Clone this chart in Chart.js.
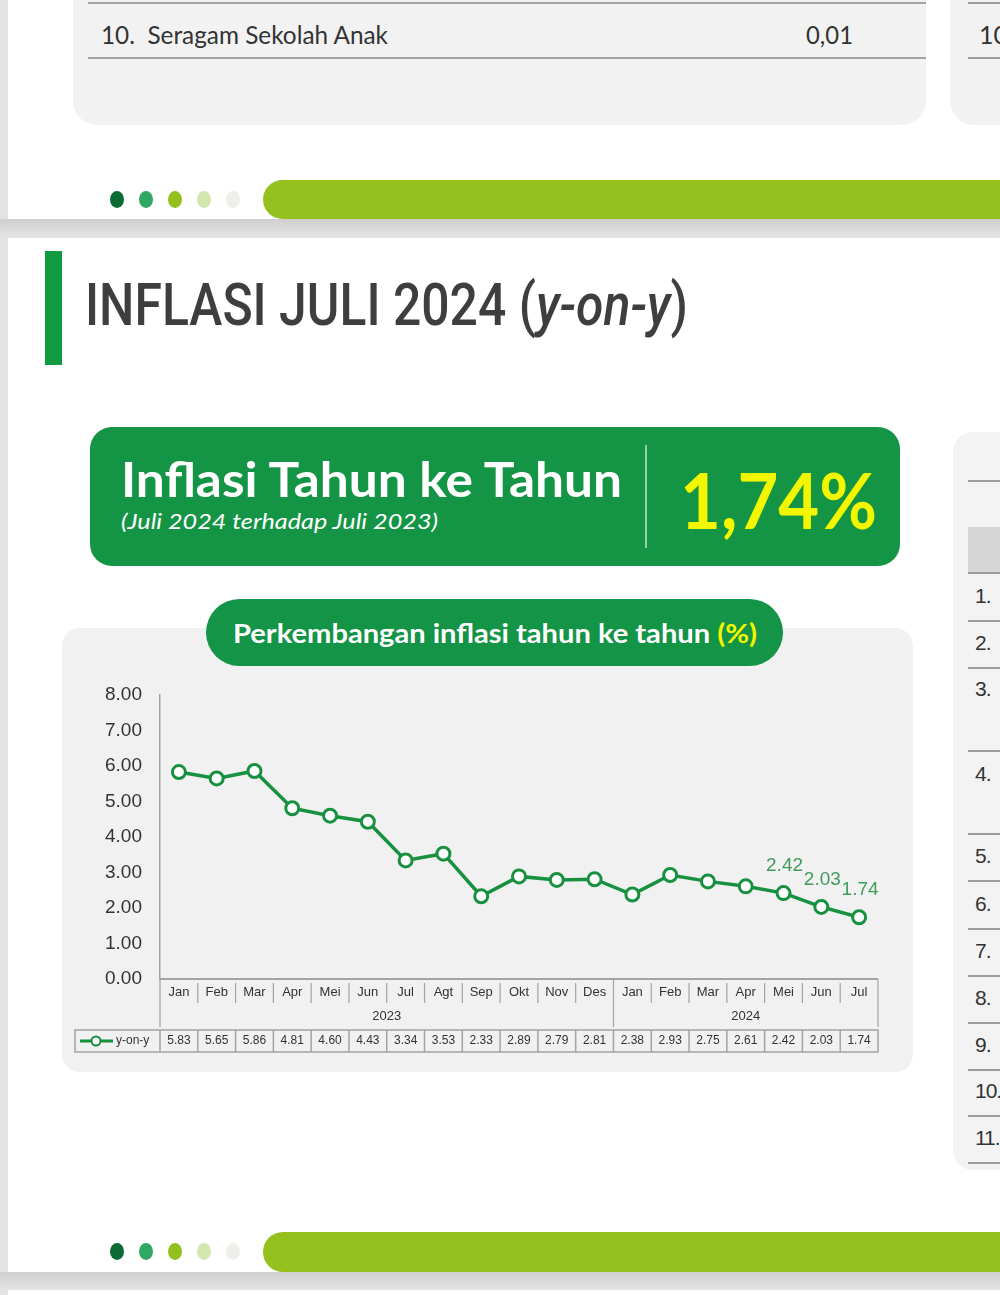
<!DOCTYPE html>
<html>
<head>
<meta charset="utf-8">
<script src="https://cdn.jsdelivr.net/npm/chart.js@4.4.1/dist/chart.umd.min.js"></script>
<style>
  html, body { margin: 0; padding: 0; }
  body { width: 1000px; height: 1295px; position: relative; overflow: hidden; background: #fff; font-family: Lato, "Open Sans", sans-serif; }
  .abs { position: absolute; }
  .fit { display: inline-block; white-space: nowrap; transform-origin: left center; }
  .dot { position: absolute; width: 14px; height: 17px; border-radius: 50%; }
  .bar { position: absolute; left: 263px; width: 760px; background: #95c11f; border-radius: 20px 0 0 20px; }
  .band { position: absolute; left: 0; width: 1000px; background: linear-gradient(#cfcfcf, #e4e4e4); }
  .rline { position: absolute; left: 968px; width: 40px; height: 2px; background: #9c9c9c; }
  .rnum { position: absolute; left: 975px; font-family: "Liberation Sans", Arial, sans-serif; font-size: 21px; color: #333; letter-spacing: -1px; }
</style>
</head>
<body>
<!-- bagian atas (halaman sebelumnya) -->
<div class="abs" style="left:0;top:0;width:8px;height:1295px;background:#e3e3e3;"></div>
<div class="abs" style="left:73px;top:-30px;width:853px;height:155px;background:#f2f2f2;border-radius:24px;"></div>
<div class="abs" style="left:950px;top:-30px;width:80px;height:155px;background:#f2f2f2;border-radius:24px;"></div>
<div class="abs" style="left:88px;top:2px;width:838px;height:2px;background:#a3a3a3;"></div>
<div class="abs" style="left:88px;top:57px;width:838px;height:2px;background:#a3a3a3;"></div>
<div class="rline" style="top:2px;"></div>
<div class="rline" style="top:57px;"></div>
<div class="abs fit" data-w="287" style="left:101px;top:19px;font-size:25px;color:#333;">10.&nbsp;&nbsp;Seragam Sekolah Anak</div>
<div class="abs fit" data-w="47" style="left:806px;top:19px;font-size:25px;color:#333;">0,01</div>
<div class="abs" style="left:979px;top:19px;font-size:25px;color:#333;">10</div>

<div class="dot" style="left:110px;top:191px;background:#0b6b34;"></div>
<div class="dot" style="left:139px;top:191px;background:#2ea862;"></div>
<div class="dot" style="left:168px;top:191px;background:#93c01f;"></div>
<div class="dot" style="left:197px;top:191px;background:#d2e6ad;"></div>
<div class="dot" style="left:226px;top:191px;background:#edf0e8;"></div>
<div class="bar" style="top:180px;height:39px;"></div>
<div class="band" style="top:219px;height:19px;"></div>

<!-- halaman inflasi -->
<div class="abs" style="left:45px;top:251px;width:17px;height:114px;background:#109a42;"></div>
<div class="abs fit" data-w="603" style="left:85px;top:270px;font-family:Roboto, sans-serif;font-size:59px;font-weight:500;color:#3e3e3e;line-height:70px;">INFLASI JULI 2024 (<i>y-on-y</i>)</div>

<div class="abs" style="left:90px;top:427px;width:810px;height:139px;background:#149545;border-radius:22px;"></div>
<div class="abs fit" data-w="501" style="left:121px;top:450px;font-size:48px;font-weight:700;color:#fff;line-height:58px;">Inflasi Tahun ke Tahun</div>
<div class="abs fit" data-w="317" style="left:121px;top:507px;font-size:22px;font-style:italic;color:#fff;line-height:28px;">(Juli 2024 terhadap Juli 2023)</div>
<div class="abs" style="left:645px;top:445px;width:2px;height:103px;background:rgba(255,255,255,0.55);"></div>
<div class="abs fit" data-w="197" style="left:680px;top:455px;font-size:76px;font-weight:700;color:#f2f700;line-height:90px;">1,74%</div>

<div class="abs" style="left:62px;top:628px;width:851px;height:444px;background:#f1f1f1;border-radius:18px;"></div>
<div class="abs" style="left:206px;top:599px;width:577px;height:67px;background:#139447;border-radius:34px;"></div>
<div class="abs fit" data-w="524" style="left:233px;top:616px;font-size:26px;font-weight:700;color:#fff;line-height:34px;">Perkembangan inflasi tahun ke tahun <span style="color:#f2f700;">(%)</span></div>

<div class="abs" style="left:953px;top:432px;width:80px;height:738px;background:#f3f3f3;border-radius:20px;"></div>
<div class="rline" style="top:480px;"></div>
<div class="abs" style="left:968px;top:527px;width:40px;height:46px;background:#d6d6d6;"></div>
<div class="rline" style="top:572px;"></div>
<div id="rightRows"></div>

<canvas id="chart" width="851" height="395" class="abs" style="left:62px;top:670px;"></canvas>

<div class="dot" style="left:110px;top:1243px;background:#0b6b34;"></div>
<div class="dot" style="left:139px;top:1243px;background:#2ea862;"></div>
<div class="dot" style="left:168px;top:1243px;background:#93c01f;"></div>
<div class="dot" style="left:197px;top:1243px;background:#d2e6ad;"></div>
<div class="dot" style="left:226px;top:1243px;background:#edf0e8;"></div>
<div class="bar" style="top:1232px;height:40px;"></div>
<div class="band" style="top:1272px;height:18px;"></div>

<script>
// Data inflasi y-on-y (%)
const bulan = ["Jan", "Feb", "Mar", "Apr", "Mei", "Jun", "Jul", "Agt", "Sep", "Okt", "Nov", "Des",
               "Jan", "Feb", "Mar", "Apr", "Mei", "Jun", "Jul"];
const tahun = ["2023", "2024"];
const jumlahBulanPerTahun = [12, 7];
const yoy = [5.83, 5.65, 5.86, 4.81, 4.60, 4.43, 3.34, 3.53, 2.33, 2.89, 2.79, 2.81,
             2.38, 2.93, 2.75, 2.61, 2.42, 2.03, 1.74];
const namaSeri = "y-on-y";
const tickY = [0, 1, 2, 3, 4, 5, 6, 7, 8];
const labelTitik = [16, 17, 18]; // titik yang diberi label nilai

// nomor baris tabel kanan (terpotong)
const nomorKanan = ["1.", "2.", "3.", "4.", "5.", "6.", "7.", "8.", "9.", "10.", "11."];
const barisKananY = [597, 644, 690, 775, 857, 905, 952, 999, 1046, 1092, 1139];
const garisKananY = [620, 667, 750, 833, 880, 928, 975, 1022, 1069, 1115, 1162];
const rr = document.getElementById("rightRows");
nomorKanan.forEach((n, i) => {
  const t = document.createElement("div");
  t.className = "rnum";
  t.style.top = (barisKananY[i] - 13) + "px";
  t.textContent = n;
  rr.appendChild(t);
});
garisKananY.forEach(y => {
  const l = document.createElement("div");
  l.className = "rline";
  l.style.top = y + "px";
  rr.appendChild(l);
});

// Menyesuaikan lebar teks
document.querySelectorAll(".fit").forEach(el => {
  const w = el.getBoundingClientRect().width;
  el.style.transform = `scaleX(${el.dataset.w / w})`;
});

const fontNarrow = '"Liberation Sans Narrow", "Arial Narrow", "Liberation Sans", sans-serif';
const hijau = "#17903f";

// Tabel data di bawah grafik
const tabelPlugin = {
  id: "tabelData",
  afterDraw(chart) {
    const c = chart.ctx;
    const x = chart.scales.x;
    const area = chart.chartArea;
    const top = area.bottom;
    const lebar = x.getPixelForValue(1) - x.getPixelForValue(0);
    const tepi = i => x.getPixelForValue(i) - lebar / 2;
    const n = bulan.length;
    c.save();
    c.strokeStyle = "#a3a3a3";
    c.lineWidth = 2;
    c.beginPath();
    c.moveTo(area.left, top); c.lineTo(area.right, top);
    c.stroke();

    c.lineWidth = 1.2;
    c.beginPath();
    for (let i = 1; i < n; i++) {
      c.moveTo(tepi(i), top + 4); c.lineTo(tepi(i), top + 24);
    }
    // batas tahun dan tepi luar
    let idx = 0;
    [0].concat(jumlahBulanPerTahun).forEach(k => {
      idx += k;
      c.moveTo(tepi(idx), top); c.lineTo(tepi(idx), top + 48);
    });
    c.stroke();

    c.fillStyle = "#333";
    c.textAlign = "center";
    c.textBaseline = "middle";
    c.font = "13px " + fontNarrow;
    bulan.forEach((b, i) => c.fillText(b, x.getPixelForValue(i), top + 13));
    idx = 0;
    tahun.forEach((t, j) => {
      const kiri = tepi(idx), kanan = tepi(idx + jumlahBulanPerTahun[j]);
      c.fillText(t, (kiri + kanan) / 2, top + 37);
      idx += jumlahBulanPerTahun[j];
    });

    // baris nilai
    const y0 = top + 51, y1 = top + 73;
    const kiriLegenda = area.left - 85;
    c.lineWidth = 1.5;
    c.strokeRect(kiriLegenda, y0, area.right - kiriLegenda, y1 - y0);
    c.beginPath();
    for (let i = 0; i < n; i++) {
      c.moveTo(tepi(i), y0); c.lineTo(tepi(i), y1);
    }
    c.stroke();
    c.font = "12px " + fontNarrow;
    yoy.forEach((v, i) => c.fillText(v.toFixed(2), x.getPixelForValue(i), (y0 + y1) / 2));

    // legenda
    const ym = (y0 + y1) / 2;
    c.strokeStyle = hijau;
    c.lineWidth = 3;
    c.beginPath();
    c.moveTo(kiriLegenda + 5, ym); c.lineTo(kiriLegenda + 38, ym);
    c.stroke();
    c.fillStyle = "#fff";
    c.lineWidth = 2;
    c.beginPath();
    c.arc(kiriLegenda + 21, ym, 4.5, 0, Math.PI * 2);
    c.fill(); c.stroke();
    c.fillStyle = "#333";
    c.textAlign = "left";
    c.fillText(namaSeri, kiriLegenda + 41, ym);
    c.restore();
  },
  afterDatasetsDraw(chart) {
    const c = chart.ctx;
    const meta = chart.getDatasetMeta(0);
    c.save();
    c.fillStyle = "#3f9c5e";
    c.font = "19px " + fontNarrow;
    c.textAlign = "center";
    c.textBaseline = "middle";
    labelTitik.forEach(i => {
      const p = meta.data[i];
      c.fillText(yoy[i].toFixed(2), p.x + 1, p.y - 27);
    });
    c.restore();
  }
};

new Chart(document.getElementById("chart"), {
  type: "line",
  data: {
    labels: bulan,
    datasets: [{
      label: namaSeri,
      data: yoy,
      borderColor: hijau,
      borderWidth: 3.5,
      pointRadius: 6.5,
      pointBorderWidth: 3,
      pointBackgroundColor: "#fff",
      pointBorderColor: hijau,
      tension: 0
    }]
  },
  options: {
    responsive: false,
    animation: false,
    layout: { padding: { left: 0, right: 35, top: 25, bottom: 86 } },
    plugins: { legend: { display: false }, tooltip: { enabled: false } },
    scales: {
      x: { type: "category", display: false, offset: true },
      y: {
        min: tickY[0],
        max: tickY[tickY.length - 1],
        afterBuildTicks: s => { s.ticks = tickY.map(v => ({ value: v })); },
        afterFit: s => { s.width = 98; },
        grid: { display: false },
        border: { display: true, color: "#a3a3a3", width: 1.5 },
        ticks: {
          padding: 10,
          color: "#333",
          font: { size: 19, family: fontNarrow },
          callback: v => v.toFixed(2)
        }
      }
    }
  },
  plugins: [tabelPlugin]
});
</script>
</body>
</html>
